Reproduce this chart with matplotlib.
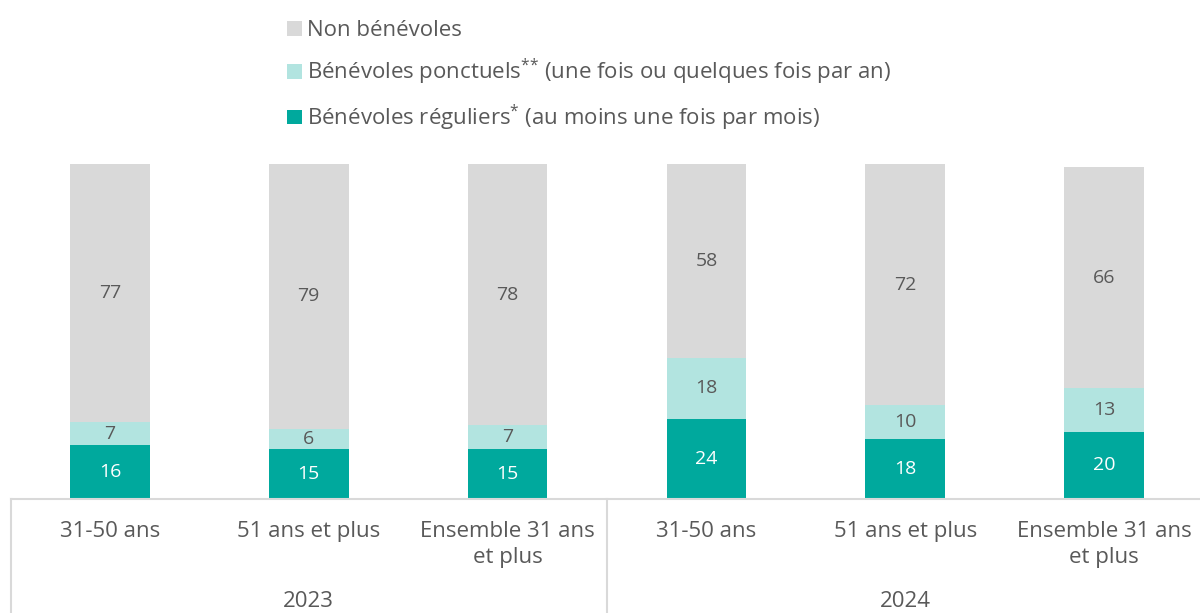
import matplotlib
matplotlib.use("Agg")
import matplotlib.pyplot as plt
from matplotlib.patches import Patch
import matplotlib.transforms as mtransforms

plt.rcParams['font.family'] = ['Open Sans', 'DejaVu Sans']
plt.rcParams['mathtext.fontset'] = 'custom'
plt.rcParams['mathtext.rm'] = 'Open Sans'

categories = ["31-50 ans", "51 ans et plus", "Ensemble 31 ans\net plus",
              "31-50 ans", "51 ans et plus", "Ensemble 31 ans\net plus"]
years = ["2023", "2024"]
reguliers = [16, 15, 15, 24, 18, 20]
ponctuels = [7, 6, 7, 18, 10, 13]
non_benevoles = [77, 79, 78, 58, 72, 66]

series_labels = ["Bénévoles réguliers$^{\\mathrm{{*}}}$ (au moins une fois par mois)",
                 "Bénévoles ponctuels$^{\\mathrm{{*}{*}}}$ (une fois ou quelques fois par an)",
                 "Non bénévoles"]
colors = ["#00A99D", "#B2E4E0", "#D9D9D9"]
text_colors = ["white", "#595959", "#595959"]
txt = "#595959"

W, H = 1200, 613
fig = plt.figure(figsize=(12, 6.13), dpi=100)
x0, x1 = 10.5, 1203.5
ybase, ytop = 499, 164
ax = fig.add_axes([x0 / W, (H - ybase) / H, (x1 - x0) / W, (ybase - ytop) / H])

x = list(range(len(categories)))
bottom = [0] * len(x)
for vals, c, tc in zip([reguliers, ponctuels, non_benevoles], colors, text_colors):
    ax.bar(x, vals, bottom=bottom, width=0.4, color=c, zorder=2)
    for xi, v, b in zip(x, vals, bottom):
        ax.text(xi, b + v / 2, str(v), ha='center', va='center', color=tc, fontsize=14)
    bottom = [b + v for b, v in zip(bottom, vals)]

ax.set_xlim(-0.5, 5.5)
ax.set_ylim(0, 100)
for s in ['top', 'right', 'left']:
    ax.spines[s].set_visible(False)
ax.spines['bottom'].set_color('#D9D9D9')
ax.spines['bottom'].set_linewidth(1.5)
ax.set_yticks([])
ax.set_xticks(x)
ax.set_xticklabels(categories, fontsize=16, color=txt, linespacing=1.3)
ax.tick_params(axis='x', length=0, pad=16)

trans = mtransforms.blended_transform_factory(ax.transData, ax.transAxes)
for xv in [-0.5, 2.5, 5.5]:
    ax.plot([xv, xv], [0, -0.5], transform=trans, color='#D9D9D9', lw=1.5, clip_on=False)
for i, yr in enumerate(years):
    ax.text(1 + 3 * i, -0.305, yr, transform=trans, ha='center', va='center',
            fontsize=16, color=txt)

handles = [Patch(facecolor=colors[i], edgecolor='none') for i in [2, 1, 0]]
labels = [series_labels[i] for i in [2, 1, 0]]
fig.legend(handles, labels, loc='upper left', bbox_to_anchor=(276 / W, 1 - 9 / H),
           frameon=False, fontsize=16, labelcolor=txt, handlelength=0.65,
           handleheight=0.65, handletextpad=0.25, labelspacing=0.7, borderpad=0)

fig.savefig("out.png", dpi=100)
